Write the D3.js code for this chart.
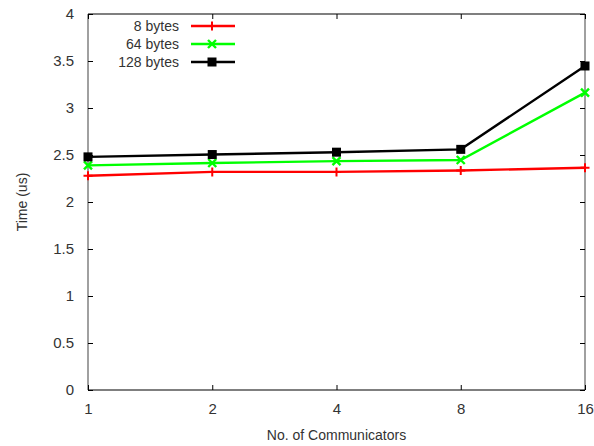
<!DOCTYPE html>
<html><head><meta charset="utf-8">
<script src="https://cdn.jsdelivr.net/npm/d3@7"></script>
<style>body{margin:0;background:#fff}svg{display:block;font-family:"Liberation Sans",Arial,sans-serif}</style>
</head><body>
<script>
const communicators = [1, 2, 4, 8, 16];
const seriesNames = ["8 bytes", "64 bytes", "128 bytes"];
const bytes8 = [2.28, 2.32, 2.32, 2.335, 2.365];
const bytes64 = [2.39, 2.415, 2.435, 2.447, 3.163];
const bytes128 = [2.48, 2.505, 2.53, 2.56, 3.447];
const yTicks = [0, 0.5, 1, 1.5, 2, 2.5, 3, 3.5, 4];
const xTickLabels = ["1", "2", "4", "8", "16"];
const colors = ["#ff0000", "#00ff00", "#000000"];
const markers = ["plus", "cross", "square"];

const W = 594, H = 446;
const m = {l: 88, r: 9, t: 14, b: 56};
const FS = "14px", TFS = "15px", TXT = "#333";
const svg = d3.select("body").append("svg").attr("width", W).attr("height", H);
const x = d3.scaleLog().base(2).domain([1, 16]).range([m.l, W - m.r]);
const y = d3.scaleLinear().domain([0, 4]).range([H - m.b, m.t]);

const series = [bytes8, bytes64, bytes128].map((v, i) => ({name: seriesNames[i], values: v, color: colors[i], marker: markers[i]}));

const x0 = x.range()[0], x1 = x.range()[1], y0 = y.range()[0], y1 = y.range()[1];
svg.append("line").attr("x1", x0).attr("x2", x0).attr("y1", y1).attr("y2", y0).attr("stroke", "#808080").attr("stroke-width", 1.5);
svg.append("line").attr("x1", x1).attr("x2", x1).attr("y1", y1).attr("y2", y0).attr("stroke", "#808080").attr("stroke-width", 1.5);
svg.append("line").attr("x1", x0).attr("x2", x1).attr("y1", y1).attr("y2", y1).attr("stroke", "#000").attr("stroke-width", 1.2);
svg.append("line").attr("x1", x0).attr("x2", x1).attr("y1", y0).attr("y2", y0).attr("stroke", "#000").attr("stroke-width", 1.2);

const yAxisL = svg.append("g").attr("transform", `translate(${x0},0)`)
  .call(d3.axisLeft(y).tickValues(yTicks).tickSize(-5).tickPadding(14).tickFormat(d3.format("")));
const yAxisR = svg.append("g").attr("transform", `translate(${x1},0)`)
  .call(d3.axisRight(y).tickValues(yTicks).tickSize(-5).tickFormat(""));
const xAxisB = svg.append("g").attr("transform", `translate(0,${y0})`)
  .call(d3.axisBottom(x).tickValues(communicators).tickSize(-5).tickPadding(12).tickFormat((d, i) => xTickLabels[i]));
const xAxisT = svg.append("g").attr("transform", `translate(0,${y1})`)
  .call(d3.axisTop(x).tickValues(communicators).tickSize(-5).tickFormat(""));
[yAxisL, yAxisR, xAxisB, xAxisT].forEach(g => {
  g.select(".domain").remove();
  g.selectAll(".tick line").attr("stroke", "#000").attr("stroke-width", 1);
  g.selectAll("text").attr("fill", TXT).style("font-size", TFS).style("font-family", "'Liberation Sans',Arial,sans-serif");
});
xAxisB.selectAll("text").attr("dy", "0.8em");

svg.append("text").attr("x", (x0 + x1) / 2).attr("y", 440).attr("text-anchor", "middle").style("font-size", FS).attr("fill", TXT).text("No. of Communicators");
svg.append("text").attr("transform", `translate(27,${(y0 + y1) / 2}) rotate(-90)`).attr("text-anchor", "middle").style("font-size", FS).attr("fill", TXT).text("Time (us)");

function drawMarker(g, type, cx, cy, color) {
  if (type === "plus") {
    g.append("path").attr("d", `M${cx - 4.5},${cy}H${cx + 4.5}M${cx},${cy - 4.5}V${cy + 4.5}`).attr("stroke", color).attr("stroke-width", 2);
  } else if (type === "cross") {
    g.append("path").attr("d", `M${cx - 4},${cy - 4}L${cx + 4},${cy + 4}M${cx - 4},${cy + 4}L${cx + 4},${cy - 4}`).attr("stroke", color).attr("stroke-width", 2.4);
  } else {
    g.append("rect").attr("x", cx - 4.5).attr("y", cy - 4.5).attr("width", 9).attr("height", 9).attr("fill", color);
  }
}

const line = d3.line().x((d, i) => x(communicators[i])).y(d => y(d));
series.forEach(s => {
  const g = svg.append("g");
  g.append("path").attr("d", line(s.values)).attr("fill", "none").attr("stroke", s.color).attr("stroke-width", 2.4);
  s.values.forEach((v, i) => drawMarker(g, s.marker, x(communicators[i]), y(v), s.color));
});

const leg = svg.append("g");
series.forEach((s, i) => {
  const ly = 26 + i * 18;
  leg.append("text").attr("x", 179).attr("y", ly).attr("dy", "0.36em").attr("text-anchor", "end").style("font-size", FS).attr("fill", TXT).text(s.name);
  leg.append("line").attr("x1", 191).attr("x2", 235).attr("y1", ly).attr("y2", ly).attr("stroke", s.color).attr("stroke-width", 2.4);
  drawMarker(leg, s.marker, 212, ly, s.color);
});
</script>
</body></html>
